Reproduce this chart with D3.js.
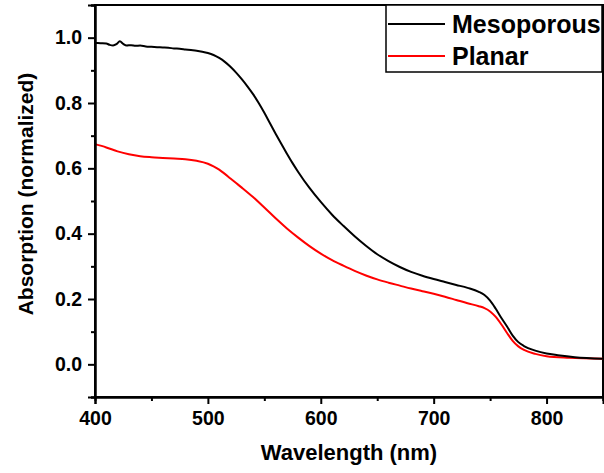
<!DOCTYPE html>
<html>
<head>
<meta charset="utf-8">
<script src="https://cdn.jsdelivr.net/npm/d3@7"></script>
<style>
  body { margin: 0; background: #fff; }
  svg { display: block; font-family: "Liberation Sans", Arial, sans-serif; font-weight: bold; }
</style>
</head>
<body>
<div id="chart"></div>
<script>
"use strict";

// wavelength (nm) / normalized absorption
var mesoWl = [400, 405, 410, 413, 416, 419, 422, 425, 428, 432, 436, 440, 445, 450, 455, 460, 465, 470, 475, 480,
  485, 490, 495, 500, 505, 510, 515, 520, 525, 530, 535, 540, 545, 550, 555, 560, 565, 570, 575, 580,
  590, 600, 610, 620, 630, 640, 650, 660, 670, 680, 690, 700, 710, 720, 730, 740, 745, 750, 755, 760,
  765, 770, 775, 780, 790, 800, 810, 825, 850];
var mesoAbs = [0.984, 0.983, 0.982, 0.978, 0.976, 0.980, 0.989, 0.981, 0.976, 0.977, 0.975, 0.976, 0.973, 0.972, 0.971, 0.970, 0.969, 0.967, 0.966, 0.964,
  0.962, 0.960, 0.957, 0.953, 0.947, 0.938, 0.926, 0.911, 0.893, 0.873, 0.851, 0.827, 0.800, 0.770, 0.738, 0.706, 0.675, 0.645, 0.616, 0.589,
  0.540, 0.497, 0.458, 0.424, 0.392, 0.363, 0.337, 0.316, 0.298, 0.283, 0.271, 0.261, 0.252, 0.243, 0.234, 0.222, 0.212, 0.195, 0.170, 0.142,
  0.116, 0.088, 0.068, 0.056, 0.042, 0.033, 0.028, 0.022, 0.017];

var planarWl = [400, 410, 420, 430, 440, 450, 460, 470, 480, 490, 500, 505, 510, 515, 520, 525, 530, 540, 550, 560,
  570, 580, 590, 600, 610, 620, 630, 640, 650, 660, 670, 680, 690, 700, 710, 720, 730, 740, 745, 750,
  755, 760, 765, 770, 775, 780, 790, 800, 820, 850];
var planarAbs = [0.674, 0.664, 0.652, 0.643, 0.637, 0.634, 0.632, 0.630, 0.628, 0.623, 0.614, 0.606, 0.596, 0.583, 0.569, 0.555, 0.541, 0.512, 0.480, 0.447,
  0.416, 0.388, 0.362, 0.339, 0.319, 0.302, 0.286, 0.272, 0.260, 0.250, 0.241, 0.232, 0.224, 0.216, 0.207, 0.197, 0.187, 0.178, 0.172, 0.162,
  0.145, 0.122, 0.096, 0.072, 0.055, 0.044, 0.032, 0.025, 0.020, 0.017];

var seriesNames = ["Mesoporous", "Planar"];
var seriesColors = ["#000000", "#ff0000"];

var xMajor = [400, 500, 600, 700, 800];
var xMinor = [450, 550, 650, 750, 850];
var yMajor = [0.0, 0.2, 0.4, 0.6, 0.8, 1.0];
var yMinor = [-0.1, 0.1, 0.3, 0.5, 0.7, 0.9, 1.1];

var width = 604,
    height = 473,
    plotL = 95, plotR = 603, plotT = 5, plotB = 397;

var x = d3.scaleLinear().domain([400, 850]).range([plotL, plotR]),
    y = d3.scaleLinear().domain([-0.1, 1.1]).range([plotB, plotT]);

var svg = d3.select("#chart").append("svg")
    .attr("width", width)
    .attr("height", height);

// frame
svg.append("rect")
    .attr("x", plotL).attr("y", plotT)
    .attr("width", plotR - plotL).attr("height", plotB - plotT)
    .attr("fill", "none").attr("stroke", "#000").attr("stroke-width", 2);

// curves
var series = [
  mesoWl.map(function(w, i) { return [w, mesoAbs[i]]; }),
  planarWl.map(function(w, i) { return [w, planarAbs[i]]; })
];

var line = d3.line()
    .x(function(d) { return x(d[0]); })
    .y(function(d) { return y(d[1]); })
    .curve(d3.curveMonotoneX);

// draw planar first so mesoporous sits on top where they meet
[1, 0].forEach(function(i) {
  svg.append("path")
      .datum(series[i])
      .attr("d", line)
      .attr("fill", "none")
      .attr("stroke", seriesColors[i])
      .attr("stroke-width", 2);
});

// axes
function styleAxis(g) {
  g.select(".domain").attr("stroke-width", 2);
  g.selectAll(".tick line").attr("stroke-width", 2);
  g.selectAll("text").attr("font-family", null).attr("font-size", 19.5).attr("fill", "#000");
}

svg.append("g")
    .attr("transform", "translate(0," + plotB + ")")
    .call(d3.axisBottom(x).tickValues(xMinor).tickSize(4).tickFormat(""))
    .call(styleAxis);
svg.append("g")
    .attr("transform", "translate(0," + plotB + ")")
    .call(d3.axisBottom(x).tickValues(xMajor).tickSize(7).tickPadding(7).tickFormat(d3.format("d")))
    .call(styleAxis);

svg.append("g")
    .attr("transform", "translate(" + plotL + ",0)")
    .call(d3.axisLeft(y).tickValues(yMinor).tickSize(4).tickFormat(""))
    .call(styleAxis);
svg.append("g")
    .attr("transform", "translate(" + plotL + ",0)")
    .call(d3.axisLeft(y).tickValues(yMajor).tickSize(7).tickPadding(6).tickFormat(d3.format(".1f")))
    .call(styleAxis);

// axis titles
svg.append("text")
    .attr("x", (plotL + plotR) / 2)
    .attr("y", 460)
    .attr("text-anchor", "middle")
    .attr("font-size", 22)
    .text("Wavelength (nm)");

svg.append("text")
    .attr("transform", "translate(33,194) rotate(-90)")
    .attr("text-anchor", "middle")
    .attr("font-size", 21)
    .text("Absorption (normalized)");

// legend
var legend = svg.append("g");
legend.append("rect")
    .attr("x", 386).attr("y", plotT)
    .attr("width", 216).attr("height", 67)
    .attr("fill", "#fff").attr("stroke", "#000").attr("stroke-width", 1.5);

seriesNames.forEach(function(name, i) {
  var ly = 24 + i * 32;
  legend.append("line")
      .attr("x1", 388).attr("x2", 445)
      .attr("y1", ly).attr("y2", ly)
      .attr("stroke", seriesColors[i]).attr("stroke-width", 2);
  legend.append("text")
      .attr("x", 452).attr("y", ly + 9)
      .attr("font-size", 25)
      .text(name);
});
</script>
</body>
</html>
